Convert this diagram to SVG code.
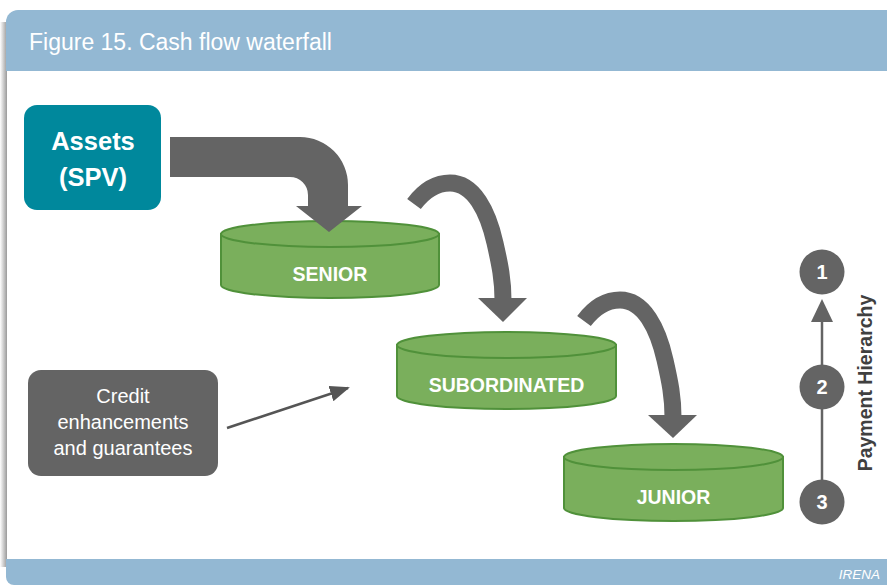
<svg xmlns="http://www.w3.org/2000/svg" width="887" height="585" viewBox="0 0 887 585">
<style>
.band{fill:#93b8d3}
.cyl-body{fill:#7aaf5c;stroke:#50913a;stroke-width:2}
.cyl-top{fill:#7aaf5c;stroke:#50913a;stroke-width:2}
.cyl-label{font-family:"Liberation Sans",Arial,sans-serif;font-weight:bold;font-size:19.5px;fill:#ffffff;text-anchor:middle}
.flow{fill:none;stroke:#646464;stroke-width:17}
.head{fill:#646464}
.num{font-family:"Liberation Sans",Arial,sans-serif;font-weight:bold;font-size:20px;fill:#ffffff;text-anchor:middle}
.dot{fill:#646464}
</style>
<defs>
<linearGradient id="shadow" x1="0" y1="0" x2="1" y2="0">
<stop offset="0" stop-color="#ffffff"/>
<stop offset="1" stop-color="#9a9a9a"/>
</linearGradient>
<marker id="thinHead" viewBox="0 0 20 16" refX="18" refY="8" markerWidth="20" markerHeight="16" markerUnits="userSpaceOnUse" orient="auto">
<path d="M0,0 L20,8 L0,16 Z" fill="#555555"/>
</marker>
</defs>
<rect x="0" y="0" width="887" height="585" fill="#ffffff"/>
<rect x="0" y="22" width="7" height="545" fill="url(#shadow)"/>
<g id="header">
<path class="band" d="M6,22 A12,12 0 0 1 18,10 H887 V71 H6 Z"/>
<text x="29" y="50" font-family="Liberation Sans,Arial,sans-serif" font-size="23px" fill="#ffffff">Figure 15. Cash flow waterfall</text>
</g>
<g id="footer">
<path class="band" d="M6,559 H887 V585 H14 A8,8 0 0 1 6,577 Z"/>
<text x="880" y="579" font-family="Liberation Sans,Arial,sans-serif" font-style="italic" font-size="13.5px" fill="#ffffff" text-anchor="end">IRENA</text>
</g>
<g id="assets">
<rect x="24" y="105" width="137" height="105" rx="13" fill="#00889c"/>
<text x="93" y="150" font-family="Liberation Sans,Arial,sans-serif" font-weight="bold" font-size="25.5px" fill="#ffffff" text-anchor="middle">Assets</text>
<text x="93" y="186" font-family="Liberation Sans,Arial,sans-serif" font-weight="bold" font-size="25.5px" fill="#ffffff" text-anchor="middle">(SPV)</text>
</g>
<g id="senior">
<path class="cyl-body" d="M221,234 V285 A109,13 0 0 0 439,285 V234 Z"/>
<ellipse class="cyl-top" cx="330" cy="234" rx="109" ry="13"/>
<text class="cyl-label" x="330" y="281">SENIOR</text>
</g>
<g id="subordinated">
<path class="cyl-body" d="M397,345 V396 A109.5,13 0 0 0 616,396 V345 Z"/>
<ellipse class="cyl-top" cx="506.5" cy="345" rx="109.5" ry="13"/>
<text class="cyl-label" x="506.5" y="392">SUBORDINATED</text>
</g>
<g id="junior">
<path class="cyl-body" d="M564,457 V508 A109.5,13 0 0 0 783,508 V457 Z"/>
<ellipse class="cyl-top" cx="673.5" cy="457" rx="109.5" ry="13"/>
<text class="cyl-label" x="673.5" y="504">JUNIOR</text>
</g>
<g id="credit">
<rect x="28" y="370" width="190" height="106" rx="13" fill="#646464"/>
<g font-family="Liberation Sans,Arial,sans-serif" font-size="20px" fill="#ffffff" text-anchor="middle">
<text x="123" y="403">Credit</text>
<text x="123" y="429">enhancements</text>
<text x="123" y="455">and guarantees</text>
</g>
</g>
<g id="hierarchy">
<line x1="822" y1="480" x2="822" y2="409" stroke="#646464" stroke-width="2.5"/>
<line x1="822" y1="365" x2="822" y2="318" stroke="#646464" stroke-width="2.5"/>
<polygon class="head" points="811,322 822,299 833,322"/>
<circle class="dot" cx="822" cy="272" r="22.5"/>
<text class="num" x="822" y="279">1</text>
<circle class="dot" cx="822" cy="387" r="22.5"/>
<text class="num" x="822" y="394">2</text>
<circle class="dot" cx="822" cy="502" r="22.5"/>
<text class="num" x="822" y="509">3</text>
<text transform="translate(872,383) rotate(-90)" font-family="Liberation Sans,Arial,sans-serif" font-weight="bold" font-size="19.5px" fill="#404040" text-anchor="middle">Payment Hierarchy</text>
</g>
<g id="connectors">
<path id="flow-assets-senior" class="head" d="M170,137 H300 A48,48 0 0 1 348,185 V206 H362 L329,232 L296,206 H308 V195 A18,18 0 0 0 290,177 H170 Z"/>
<g id="flow-senior-subordinated">
<path class="flow" d="M414,204 C426,188 438,183 450,183 C474,183 488,212 495,243 C500,265 503,280 503,300"/>
<polygon class="head" points="478,298 527,298 503,322"/>
</g>
<g id="flow-subordinated-junior" transform="translate(170,117)">
<path class="flow" d="M414,204 C426,188 438,183 450,183 C474,183 488,212 495,243 C500,265 503,280 503,300"/>
<polygon class="head" points="478,298 527,298 503,321"/>
</g>
<line id="credit-link" x1="227" y1="428" x2="348" y2="388" stroke="#555555" stroke-width="2.5" marker-end="url(#thinHead)"/>
</g>
</svg>
